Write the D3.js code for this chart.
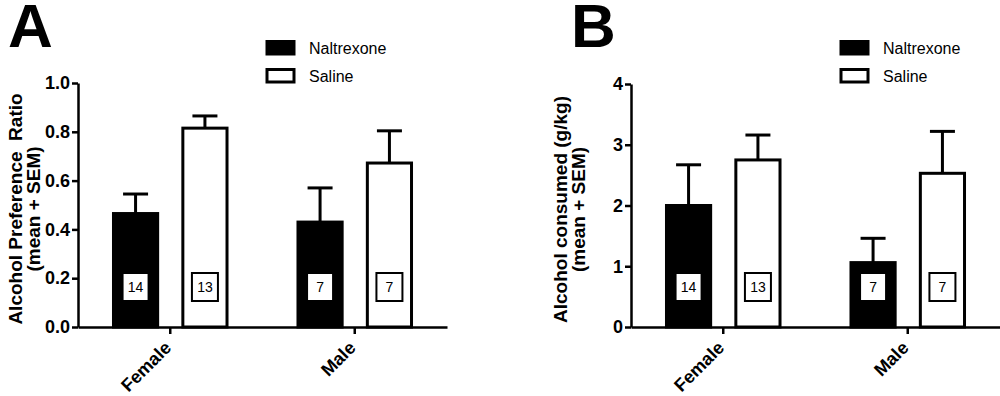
<!DOCTYPE html>
<html>
<head>
<meta charset="utf-8">
<script src="https://cdn.jsdelivr.net/npm/d3@7.9.0/dist/d3.min.js"></script>
<style>
  body { margin: 0; background: #fff; }
  svg { display: block; font-family: "Liberation Sans", Arial, sans-serif; }
</style>
</head>
<body>
<svg id="chart" width="1000" height="396"></svg>
<script>
const groups = ['Female', 'Male'];
const treatments = ['Naltrexone', 'Saline'];

// panel A: preference ratio
const prefNaltrexone = [0.465, 0.43];
const prefNaltrexoneSem = [0.08, 0.14];
const prefSaline = [0.815, 0.672];
const prefSalineSem = [0.05, 0.132];
const prefTicks = [0, 0.2, 0.4, 0.6, 0.8, 1.0];

// panel B: g/kg consumed
const gkgNaltrexone = [2.0, 1.06];
const gkgNaltrexoneSem = [0.67, 0.40];
const gkgSaline = [2.75, 2.53];
const gkgSalineSem = [0.41, 0.69];
const gkgTicks = [0, 1, 2, 3, 4];

// animals per group
const nNaltrexone = [14, 7];
const nSaline = [13, 7];

const svg = d3.select('#chart');

function drawPanel(p) {
  const g = svg.append('g');

  let x0 = d3.scaleBand().domain(groups).range(p.xRange).padding(0);
  let x1 = d3.scaleBand().domain(treatments).range([0, x0.bandwidth()])
    .paddingInner(0.32).paddingOuter(0.49);
  let y = d3.scaleLinear().domain(p.yDomain).range(p.yRange);

  let rows = [];
  groups.forEach((grp, i) => {
    rows.push({ grp, t: 'Naltrexone', v: p.nal[i], sem: p.nalSem[i], n: nNaltrexone[i] });
    rows.push({ grp, t: 'Saline', v: p.sal[i], sem: p.salSem[i], n: nSaline[i] });
  });

  let cx = (d) => x0(d.grp) + x1(d.t) + x1.bandwidth() / 2;

  // error bars first so bar outline covers the joint
  let err = g.selectAll('.err').data(rows).join('g').attr('class', 'err')
    .attr('stroke', '#000').attr('stroke-width', 3);
  err.append('line')
    .attr('x1', cx).attr('x2', cx)
    .attr('y1', (d) => y(d.v)).attr('y2', (d) => y(d.v + d.sem));
  err.append('line')
    .attr('x1', (d) => cx(d) - 12.5).attr('x2', (d) => cx(d) + 12.5)
    .attr('y1', (d) => y(d.v + d.sem)).attr('y2', (d) => y(d.v + d.sem));

  g.selectAll('.bar').data(rows).join('rect').attr('class', 'bar')
    .attr('x', (d) => x0(d.grp) + x1(d.t) + 1.5)
    .attr('width', x1.bandwidth() - 3)
    .attr('y', (d) => y(d.v))
    .attr('height', (d) => y(p.yDomain[0]) - y(d.v))
    .attr('fill', (d) => d.t === 'Naltrexone' ? '#000' : '#fff')
    .attr('stroke', '#000').attr('stroke-width', 3);

  // n labels
  let boxY = y(p.yDomain[0]) - 40;
  let nb = g.selectAll('.nbox').data(rows).join('g').attr('class', 'nbox');
  nb.append('rect')
    .attr('x', (d) => cx(d) - 13).attr('y', boxY - 14)
    .attr('width', 26).attr('height', 28)
    .attr('fill', '#fff').attr('stroke', '#000').attr('stroke-width', 2);
  nb.append('text')
    .attr('x', cx).attr('y', boxY + 5)
    .attr('text-anchor', 'middle').attr('font-size', 14)
    .text((d) => d.n);

  // axes
  let yAxis = d3.axisLeft(y).tickValues(p.ticks).tickFormat(p.fmt)
    .tickSize(6).tickPadding(2).tickSizeOuter(0);
  let ya = g.append('g').attr('transform', `translate(${p.xRange[0]},0)`).call(yAxis);
  ya.selectAll('text').attr('font-size', 18).attr('font-weight', 'bold')
    .attr('fill', '#000').attr('font-family', '"Liberation Sans", Arial, sans-serif');
  ya.selectAll('line, path').attr('stroke', '#000').attr('stroke-width', 2.5);

  let xAxis = d3.axisBottom(x0).tickSize(7).tickPadding(4).tickSizeOuter(0);
  let xa = g.append('g').attr('transform', `translate(0,${y(p.yDomain[0])})`).call(xAxis);
  xa.selectAll('line, path').attr('stroke', '#000').attr('stroke-width', 2.5);
  xa.selectAll('text')
    .attr('font-size', 18).attr('font-weight', 'bold').attr('fill', '#000')
    .attr('font-family', '"Liberation Sans", Arial, sans-serif')
    .attr('text-anchor', 'end').attr('x', 0).attr('y', 0).attr('dy', 0)
    .attr('transform', 'translate(2,22) rotate(-45)');

  // y title, two lines
  let midY = (p.yRange[0] + p.yRange[1]) / 2;
  let title = g.append('text')
    .attr('transform', `translate(${p.titleX},${midY + 4}) rotate(-90)`)
    .attr('text-anchor', 'middle').attr('font-size', 19).attr('font-weight', 'bold')
    .style('white-space', 'pre');
  title.append('tspan').attr('x', 0).attr('dy', 0).text(p.title[0]);
  title.append('tspan').attr('x', 0).attr('dy', 18).text(p.title[1]);

  // panel letter
  svg.append('text').attr('x', p.letterX).attr('y', 47)
    .attr('font-size', 62).attr('font-weight', 'bold').text(p.letter);

  // legend
  let lg = svg.append('g').attr('transform', `translate(${p.legendX},40)`);
  treatments.forEach((t, i) => {
    lg.append('rect').attr('x', 1).attr('y', i * 28 + 1.5)
      .attr('width', 27).attr('height', 12.5)
      .attr('fill', t === 'Naltrexone' ? '#000' : '#fff')
      .attr('stroke', '#000').attr('stroke-width', 3);
    lg.append('text').attr('x', 43).attr('y', i * 28 + 14)
      .attr('font-size', 16).text(t);
  });
}

drawPanel({
  xRange: [78, 447], yRange: [327, 83], yDomain: [0, 1],
  ticks: prefTicks, fmt: d3.format('.1f'),
  nal: prefNaltrexone, nalSem: prefNaltrexoneSem,
  sal: prefSaline, salSem: prefSalineSem,
  title: ['Alcohol Preference  Ratio', '(mean + SEM)'], titleX: 22,
  letter: 'A', letterX: 8, legendX: 266
});

drawPanel({
  xRange: [631, 1000], yRange: [327, 84], yDomain: [0, 4],
  ticks: gkgTicks, fmt: d3.format('d'),
  nal: gkgNaltrexone, nalSem: gkgNaltrexoneSem,
  sal: gkgSaline, salSem: gkgSalineSem,
  title: ['Alcohol consumed (g/kg)', '(mean + SEM)'], titleX: 567,
  letter: 'B', letterX: 571, legendX: 840
});
</script>
</body>
</html>
